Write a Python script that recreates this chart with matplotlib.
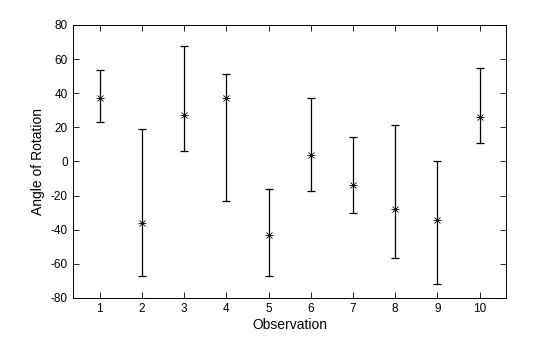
import matplotlib
matplotlib.use('Agg')
import matplotlib.pyplot as plt

obs = [1, 2, 3, 4, 5, 6, 7, 8, 9, 10]
angle = [37.2, -36.1, 27.3, 37.2, -43.1, 4.0, -13.7, -27.8, -34.6, 26.0]
upper = [53.5, 19.0, 67.5, 51.2, -16.1, 37.2, 14.3, 21.5, 0.0, 54.8]
lower = [23.0, -67.0, 6.4, -23.3, -67.4, -17.2, -30.5, -56.5, -71.7, 11.0]

err_lo = [a - l for a, l in zip(angle, lower)]
err_hi = [u - a for u, a in zip(upper, angle)]

plt.rcParams['font.family'] = ['Liberation Sans', 'DejaVu Sans']
plt.rcParams['axes.unicode_minus'] = False

fig = plt.figure(figsize=(5.6, 3.37), dpi=100)
ax = fig.add_axes([0.130, 0.116, 0.774, 0.810])

ax.errorbar(obs, angle, yerr=[err_lo, err_hi], fmt='none', ecolor='black',
            elinewidth=0.9, capsize=3.2, capthick=0.9)
ax.plot(obs, angle, linestyle='none', marker='+', color='black',
        markersize=6, markeredgewidth=0.6)
ax.plot(obs, angle, linestyle='none', marker='x', color='black',
        markersize=4.5, markeredgewidth=0.6)

ax.set_xlim(0.36, 10.63)
ax.set_ylim(-80, 80)
ax.set_xticks(obs)
ax.set_yticks(range(-80, 81, 20))
ax.tick_params(direction='in', top=True, right=True, labelsize=8.5, length=4, width=0.6)
for s in ax.spines.values():
    s.set_linewidth(0.7)

ax.set_xlabel('Observation', fontsize=10, labelpad=2)
ax.set_ylabel('Angle of Rotation', fontsize=10, labelpad=4)

fig.savefig('out.png', dpi=100)
